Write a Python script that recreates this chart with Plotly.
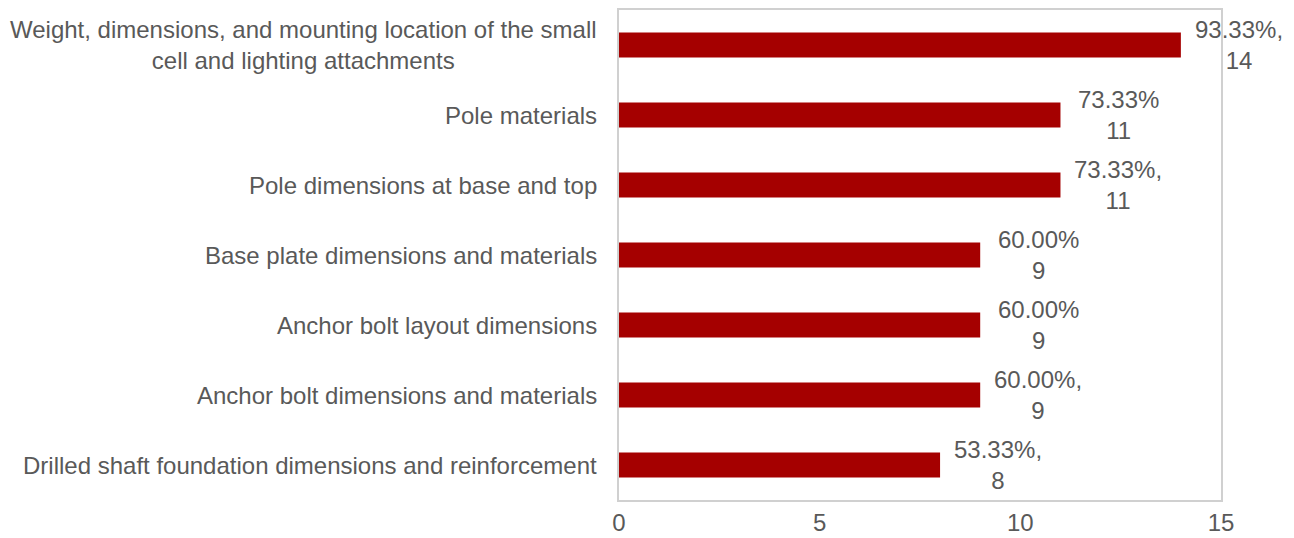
import plotly.graph_objects as go

# Survey items (top to bottom) and response counts
categories = [
    "Weight, dimensions, and mounting location of the small<br>cell and lighting attachments",
    "Pole materials",
    "Pole dimensions at base and top",
    "Base plate dimensions and materials",
    "Anchor bolt layout dimensions",
    "Anchor bolt dimensions and materials",
    "Drilled shaft foundation dimensions and reinforcement",
]
counts = [14, 11, 11, 9, 9, 9, 8]
percent_labels = ["93.33%,", "73.33%", "73.33%,", "60.00%", "60.00%", "60.00%,", "53.33%,"]

x_ticks = [0, 5, 10, 15]

text_color = "#595959"
bar_color = "#A50000"
font_family = "Liberation Sans, Arial, sans-serif"
font_size = 24

fig = go.Figure(
    go.Bar(
        x=counts,
        y=categories,
        orientation="h",
        marker=dict(color=bar_color, line=dict(width=0)),
        width=0.36,
        hoverinfo="skip",
    )
)

annotations = []
# value labels to the right of each bar
for cat, n, pct in zip(categories, counts, percent_labels):
    annotations.append(
        dict(
            x=n, y=cat, xref="x", yref="y",
            text=f"{pct}<br>{n}",
            showarrow=False,
            xanchor="center", yanchor="middle", align="center",
            xshift=58,
            font=dict(size=font_size, color=text_color, family=font_family),
        )
    )
# category labels, centred line by line
for cat in categories:
    annotations.append(
        dict(
            x=0, y=cat, xref="paper", yref="y",
            text=cat,
            showarrow=False,
            xanchor="right", yanchor="middle", align="center",
            xshift=-20,
            font=dict(size=font_size, color=text_color, family=font_family),
        )
    )

fig.update_layout(
    width=1294,
    height=538,
    margin=dict(l=619, r=73, t=10, b=38),
    paper_bgcolor="white",
    plot_bgcolor="white",
    showlegend=False,
    font=dict(family=font_family, size=font_size, color=text_color),
    annotations=annotations,
    xaxis=dict(
        range=[0, 15],
        tickvals=x_ticks,
        showgrid=False,
        zeroline=False,
        showline=True,
        mirror=True,
        linecolor="#d0d0d0",
        linewidth=1.5,
        ticks="",
        automargin=False,
        ticklabelstandoff=0,
        tickfont=dict(size=font_size, color=text_color),
    ),
    yaxis=dict(
        categoryorder="array",
        categoryarray=categories,
        autorange="reversed",
        showticklabels=False,
        showgrid=False,
        zeroline=False,
        showline=True,
        mirror=True,
        linecolor="#d0d0d0",
        linewidth=1.5,
        ticks="",
        automargin=False,
    ),
)

fig.write_html("out.html")
